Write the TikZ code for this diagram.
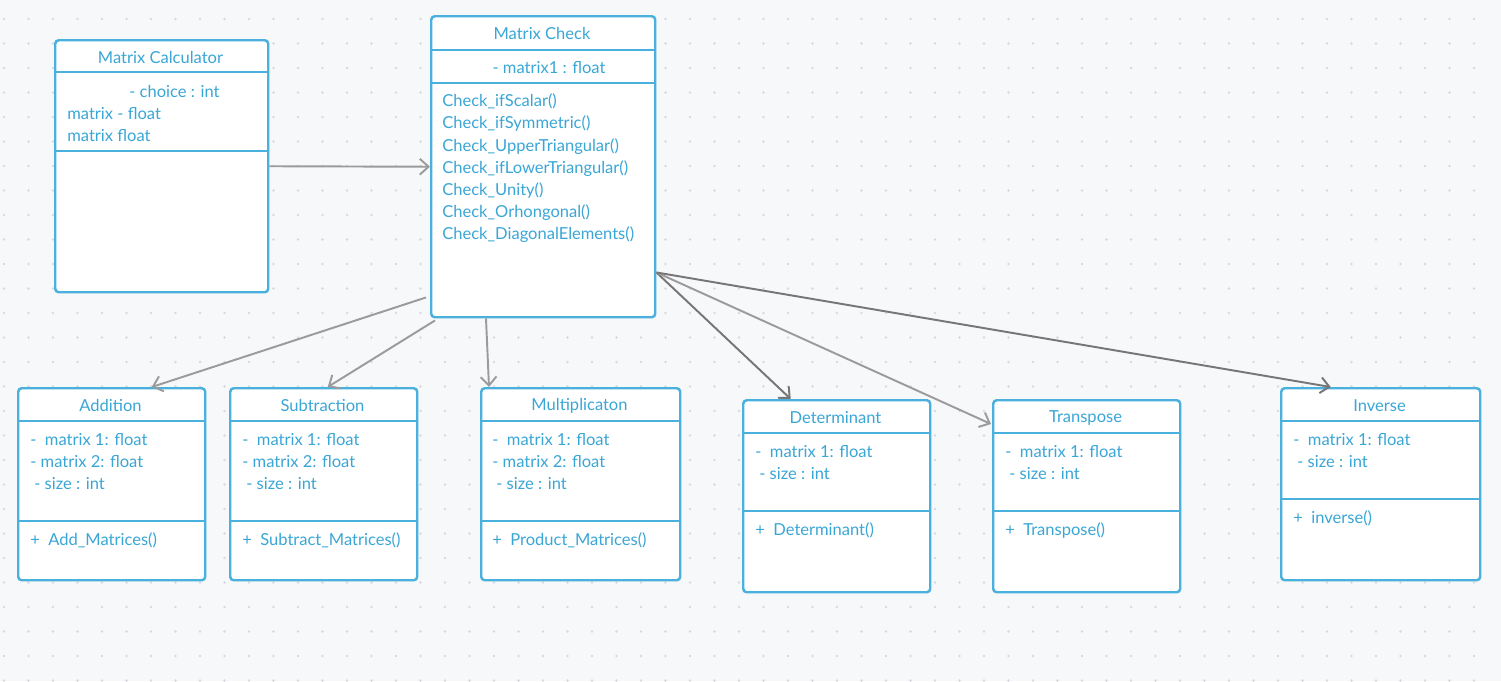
\documentclass[tikz,border=0pt]{standalone}
\usepackage{fontspec}
\setmainfont{Lato}
\usepackage{xcolor}
\usetikzlibrary{arrows.meta,calc}

\definecolor{umlblue}{RGB}{74,176,222}
\definecolor{txtblue}{RGB}{58,166,214}
\definecolor{paper}{RGB}{247,248,250}
\definecolor{griddot}{RGB}{214,218,224}
\definecolor{linkgray}{RGB}{155,155,155}
\definecolor{linkdark}{RGB}{118,118,118}
\newcommand{\px}{0.02cm}

\begin{document}
\begin{tikzpicture}[x=0.02cm, y=-0.02cm,
  every node/.style={font=\fontsize{9.4}{11}\selectfont, text=txtblue, inner sep=0pt, yshift=-1pt},
  classbox/.style={draw=umlblue, line width=1.4pt, fill=white, rounded corners=2pt, anchor=north west, yshift=1pt},
  divider/.style={draw=umlblue, line width=1.4pt},
  attr/.style={anchor=west},
  link/.style={draw=linkgray, line width=1.1pt, -{Straight Barb[length=5pt, width=9pt]}},
  darklink/.style={link, draw=linkdark}]

  % ========== Background with dot grid ==========
  \useasboundingbox (0,0) rectangle (1501,681);
  \fill[paper] (0,0) rectangle (1501,681);
  \foreach \i in {0,...,60}
    \foreach \j in {0,...,27}
      \fill[griddot] ({4+24.5*\i},{19+24.5*\j}) circle (1.4);

  % ========== Matrix Calculator ==========
  \node[classbox, minimum width=213*\px, minimum height=252*\px] (mcalc) at (54,39) {};
  \draw[divider] ($(mcalc.north west)+(0,33)$) -- ($(mcalc.north east)+(0,33)$);
  \draw[divider] ($(mcalc.north west)+(0,112)$) -- ($(mcalc.north east)+(0,112)$);
  \node at (160.5,56) {Matrix Calculator};
  \node[attr] at (129,90) {- choice : int};
  \node[attr] at (67,112) {matrix - float};
  \node[attr] at (67,134) {matrix float};

  % ========== Matrix Check ==========
  \node[classbox, minimum width=224*\px, minimum height=301*\px] (mcheck) at (430,15) {};
  \draw[divider] ($(mcheck.north west)+(0,35)$) -- ($(mcheck.north east)+(0,35)$);
  \draw[divider] ($(mcheck.north west)+(0,68)$) -- ($(mcheck.north east)+(0,68)$);
  \node at (542,32) {Matrix Check};
  \node at (549,66) {- matrix1 : float};
  \node[attr] at (442,100) {Check\_ifScalar()};
  \node[attr] at (442,122) {Check\_ifSymmetric()};
  \node[attr] at (442,145) {Check\_UpperTriangular()};
  \node[attr] at (442,167) {Check\_ifLowerTriangular()};
  \node[attr] at (442,189) {Check\_Unity()};
  \node[attr] at (442,211) {Check\_Orhongonal()};
  \node[attr] at (442,233) {Check\_DiagonalElements()};

  % ========== Addition ==========
  \node[classbox, minimum width=187*\px, minimum height=192*\px] (add) at (17,387) {};
  \draw[divider] ($(add.north west)+(0,34)$) -- ($(add.north east)+(0,34)$);
  \draw[divider] ($(add.north west)+(0,134)$) -- ($(add.north east)+(0,134)$);
  \node at (110.5,404) {Addition};
  \node[attr] at (30,438) {-\ \ matrix 1: float};
  \node[attr] at (30,460) {- matrix 2: float};
  \node[attr] at (34,482) {- size : int};
  \node[attr] at (30,539) {+\ \ Add\_Matrices()};

  % ========== Subtraction ==========
  \node[classbox, minimum width=187*\px, minimum height=192*\px] (sub) at (229,387) {};
  \draw[divider] ($(sub.north west)+(0,34)$) -- ($(sub.north east)+(0,34)$);
  \draw[divider] ($(sub.north west)+(0,134)$) -- ($(sub.north east)+(0,134)$);
  \node at (322.5,404) {Subtraction};
  \node[attr] at (242,438) {-\ \ matrix 1: float};
  \node[attr] at (242,460) {- matrix 2: float};
  \node[attr] at (246,482) {- size : int};
  \node[attr] at (242,539) {+\ \ Subtract\_Matrices()};

  % ========== Multiplicaton ==========
  \node[classbox, minimum width=199*\px, minimum height=192*\px] (mult) at (480,387) {};
  \draw[divider] ($(mult.north west)+(0,34)$) -- ($(mult.north east)+(0,34)$);
  \draw[divider] ($(mult.north west)+(0,134)$) -- ($(mult.north east)+(0,134)$);
  \node at (579.5,404) {Multiplicaton};
  \node[attr] at (492,438) {-\ \ matrix 1: float};
  \node[attr] at (492,460) {- matrix 2: float};
  \node[attr] at (496,482) {- size : int};
  \node[attr] at (492,539) {+\ \ Product\_Matrices()};

  % ========== Determinant ==========
  \node[classbox, minimum width=187*\px, minimum height=192*\px] (det) at (742,399) {};
  \draw[divider] ($(det.north west)+(0,34)$) -- ($(det.north east)+(0,34)$);
  \draw[divider] ($(det.north west)+(0,112)$) -- ($(det.north east)+(0,112)$);
  \node at (835.5,416) {Determinant};
  \node[attr] at (755,450) {-\ \ matrix 1: float};
  \node[attr] at (759,472) {- size : int};
  \node[attr] at (755,529) {+\ \ Determinant()};

  % ========== Transpose ==========
  \node[classbox, minimum width=187*\px, minimum height=192*\px] (trans) at (992,399) {};
  \draw[divider] ($(trans.north west)+(0,34)$) -- ($(trans.north east)+(0,34)$);
  \draw[divider] ($(trans.north west)+(0,112)$) -- ($(trans.north east)+(0,112)$);
  \node at (1085.5,416) {Transpose};
  \node[attr] at (1005,450) {-\ \ matrix 1: float};
  \node[attr] at (1009,472) {- size : int};
  \node[attr] at (1005,529) {+\ \ Transpose()};

  % ========== Inverse ==========
  \node[classbox, minimum width=199*\px, minimum height=192*\px] (inv) at (1280,387) {};
  \draw[divider] ($(inv.north west)+(0,34)$) -- ($(inv.north east)+(0,34)$);
  \draw[divider] ($(inv.north west)+(0,112)$) -- ($(inv.north east)+(0,112)$);
  \node at (1379.5,404) {Inverse};
  \node[attr] at (1293,438) {-\ \ matrix 1: float};
  \node[attr] at (1297,460) {- size : int};
  \node[attr] at (1293,517) {+\ \ inverse()};

  % ========== Links ==========
  \draw[link] (mcalc.east) -- (mcheck.west);
  \draw[link] ($(mcheck.south west)+(-4,-21)$) -- ($(add.north)+(40,0)$);
  \draw[link] ($(mcheck.south west)+(5,2)$) -- ($(sub.north)+(4,0)$);
  \draw[link] ($(mcheck.south west)+(56,0)$) -- ($(mult.north west)+(9,0)$);
  \draw[darklink] ($(mcheck.south east)+(0,-46)$) -- ($(det.north)+(-46,0)$);
  \draw[link] ($(mcheck.south east)+(0,-46)$) -- ($(trans.north west)+(-1,25)$);
  \draw[darklink] ($(mcheck.south east)+(0,-46)$) -- ($(inv.north)+(-50,0)$);

\end{tikzpicture}
\end{document}
